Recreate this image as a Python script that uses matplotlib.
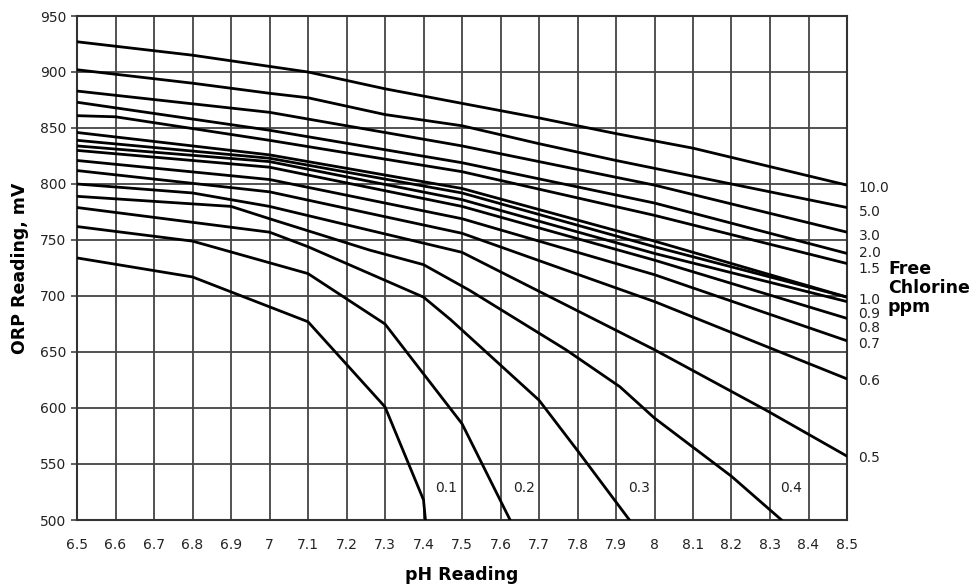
import matplotlib
matplotlib.use("Agg")
import matplotlib.pyplot as plt
import numpy as np

# ORP (mV) vs pH curves for free chlorine levels
ph_10 = [6.5, 6.8, 7.1, 7.3, 7.5, 7.7, 7.9, 8.1, 8.5]
orp_10 = [927, 915, 900, 885, 872, 859, 845, 832, 799]
ph_5 = [6.5, 6.8, 7.0, 7.1, 7.3, 7.5, 7.7, 7.9, 8.1, 8.5]
orp_5 = [902, 890, 881, 877, 862, 852, 836, 821, 807, 779]
ph_mid = [6.5, 7.0, 7.5, 8.0, 8.5]
orp_3 = [883, 864, 834, 799, 757]
orp_2 = [873, 848, 819, 783, 738]
ph_15 = [6.5, 6.6, 7.0, 7.5, 8.0, 8.5]
orp_15 = [861, 860, 839, 811, 772, 729]
orp_1a = [846, 826, 796, 749, 699]
orp_1b = [839, 823, 792, 744, 699]
orp_09 = [834, 820, 786, 738, 695]
orp_08 = [830, 815, 780, 732, 680]
orp_07 = [821, 804, 769, 719, 660]
orp_06 = [812, 793, 756, 695, 626]
ph_05 = [6.5, 6.8, 7.0, 7.5, 8.0, 8.29, 8.5]
orp_05 = [800, 792, 780, 739, 652, 598, 557]
ph_04 = [6.5, 6.9, 7.0, 7.26, 7.4, 7.52, 7.77, 7.91, 8.0, 8.2, 8.33]
orp_04 = [789, 780, 769, 741, 728, 705, 652, 619, 591, 539, 500]
ph_03 = [6.5, 7.0, 7.1, 7.2, 7.4, 7.47, 7.7, 7.8, 7.935]
orp_03 = [779, 757, 744, 729, 699, 679, 607, 562, 500]
ph_02 = [6.5, 6.8, 7.1, 7.3, 7.5, 7.625]
orp_02 = [762, 749, 720, 675, 586, 500]
ph_01 = [6.5, 6.8, 7.1, 7.3, 7.4, 7.405]
orp_01 = [734, 717, 677, 601, 518, 500]

curves = [
    (ph_10, orp_10), (ph_5, orp_5), (ph_mid, orp_3), (ph_mid, orp_2),
    (ph_15, orp_15), (ph_mid, orp_1a), (ph_mid, orp_1b), (ph_mid, orp_09),
    (ph_mid, orp_08), (ph_mid, orp_07), (ph_mid, orp_06), (ph_05, orp_05),
    (ph_04, orp_04), (ph_03, orp_03), (ph_02, orp_02), (ph_01, orp_01),
]

# curve labels at the right edge and along the bottom
right_labels = ["10.0", "5.0", "3.0", "2.0", "1.5", "1.0", "0.9", "0.8", "0.7", "0.6", "0.5"]
right_label_orp = [796, 775, 754, 738, 724, 696, 684, 671, 657, 624, 555]
bottom_labels = ["0.1", "0.2", "0.3", "0.4"]
bottom_label_ph = [7.46, 7.66, 7.96, 8.355]

fig = plt.figure(figsize=(9.78, 5.87), dpi=100)
ax = fig.add_axes([77 / 978, 1 - 520 / 587, 770 / 978, 504 / 587])

for ph, orp in curves:
    ax.plot(ph, orp, color="black", lw=2.0, solid_joinstyle="miter", zorder=3)

ax.set_xlim(6.5, 8.5)
ax.set_ylim(500, 950)
xt = np.round(np.arange(6.5, 8.51, 0.1), 1)
ax.set_xticks(xt)
ax.set_xticklabels([f"{v:g}" for v in xt], fontsize=10, color="#222222")
ax.set_yticks(np.arange(500, 951, 50))
ax.tick_params(axis="y", labelsize=10, labelcolor="#222222", length=4, width=1.2, color="#444444")
ax.tick_params(axis="x", length=0, pad=13)
ax.grid(True, color="#444444", lw=1.3, zorder=1)
for s in ax.spines.values():
    s.set_color("#333333")
    s.set_linewidth(1.5)

for t, y in zip(right_labels, right_label_orp):
    ax.text(8.53, y, t, fontsize=10, color="#222222", va="center", ha="left", clip_on=False)
for t, x in zip(bottom_labels, bottom_label_ph):
    ax.text(x, 529, t, fontsize=10, color="#222222", va="center", ha="center")

ax.set_ylabel("ORP Reading, mV", fontsize=12.5, fontweight="bold", labelpad=8)
ax.set_xlabel("pH Reading", fontsize=12.5, fontweight="bold", labelpad=10)
fig.text(888 / 978, 1 - 288 / 587, "Free\nChlorine\nppm", fontsize=12.5, fontweight="bold",
         ha="left", va="center", linespacing=1.1)

fig.savefig("out.png", dpi=100)
